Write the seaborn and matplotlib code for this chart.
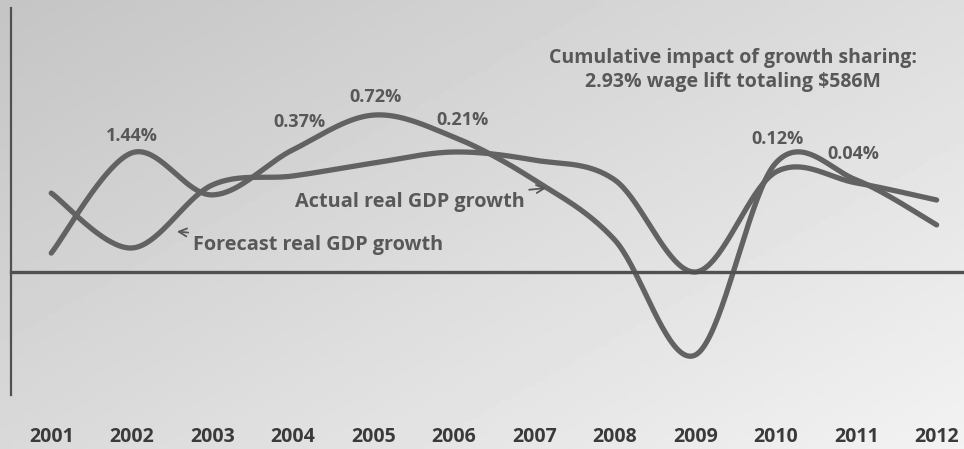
import matplotlib.pyplot as plt
import numpy as np
import pandas as pd
import seaborn as sns

# ---- Data (real GDP growth, %)
#
years = ['2001', '2002', '2003', '2004', '2005', '2006',
         '2007', '2008', '2009', '2010', '2011', '2012']
actual_growth = [0.63, 3.97, 2.57, 4.07, 5.23, 4.50, 3.07, 1.07, -2.77, 3.63, 3.07, 1.57]
forecast_growth = [2.63, 0.80, 2.90, 3.20, 3.63, 4.00, 3.73, 3.07, 0.00, 3.33, 2.97, 2.40]
lift_labels = ['', '1.44%', '', '0.37%', '0.72%', '0.21%', '', '', '', '0.12%', '0.04%', '']

INK = '#585858'
FONT = 'Open Sans'


def smooth_line(values, n=40):
    '''
    Excel-like smoothed line (Catmull-Rom) through the yearly points.
    '''
    y = np.asarray(values, dtype=float)
    x = np.arange(len(y), dtype=float)
    px = np.concatenate([[x[0]], x, [x[-1]]])
    py = np.concatenate([[y[0]], y, [y[-1]]])
    xs, ys = [], []
    t = np.linspace(0, 1, n)
    for i in range(1, len(px) - 2):
        p0, p1, p2, p3 = (np.array([px[j], py[j]]) for j in range(i - 1, i + 3))
        c1 = p1 + (p2 - p0) / 6
        c2 = p2 - (p3 - p1) / 6
        seg = ((1 - t) ** 3)[:, None] * p1 + (3 * (1 - t) ** 2 * t)[:, None] * c1 \
            + (3 * (1 - t) * t ** 2)[:, None] * c2 + (t ** 3)[:, None] * p2
        xs.extend(seg[:, 0])
        ys.extend(seg[:, 1])
    return np.array(xs), np.array(ys)


sns.set_style('white')
plt.rcParams['font.family'] = [FONT, 'DejaVu Sans']

fig = plt.figure(figsize=(9.64, 4.49), dpi=100)

# ---- Background gradient
#
bg = fig.add_axes([0, 0, 1, 1], zorder=0)
gx, gy = np.meshgrid(np.linspace(0, 1, 200), np.linspace(0, 1, 100))
bg.imshow(0.77 + 0.18 * (0.55 * gx + 0.45 * gy), cmap='gray', vmin=0, vmax=1,
          aspect='auto', extent=(0, 1, 1, 0))
bg.axis('off')

ax = fig.add_axes([11 / 964, 54 / 449, 1 - 11 / 964, 387 / 449], zorder=1)
ax.patch.set_alpha(0)

frames = []
for name, values in [('Actual', actual_growth), ('Forecast', forecast_growth)]:
    sx, sy = smooth_line(values)
    frames.append(pd.DataFrame({'x': sx, 'growth': sy, 'series': name}))
curves = pd.concat(frames, ignore_index=True)

sns.lineplot(data=curves, x='x', y='growth', units='series', estimator=None,
             sort=False, color='#626262', linewidth=3.8, ax=ax,
             solid_capstyle='round', legend=False)

ax.set_xlim(-0.5, 11.34)
ax.set_ylim(-4.1, 8.8)

# ---- Axes: zero line with boundary ticks, plain left spine
#
for side in ['top', 'right']:
    ax.spines[side].set_visible(False)
ax.spines['bottom'].set_position(('data', 0))
ax.spines['bottom'].set_color('#505050')
ax.spines['bottom'].set_linewidth(2.4)
ax.spines['left'].set_color('#505050')
ax.spines['left'].set_linewidth(1.6)
ax.set_xticks(np.arange(len(years) - 1) + 0.5)
ax.set_xticklabels([])
ax.tick_params(axis='x', direction='out', length=5, width=1.3, color='#505050')
ax.set_yticks([])
ax.set_xlabel('')
ax.set_ylabel('')

for i, year in enumerate(years):
    ax.text(i, -0.108, year, transform=ax.get_xaxis_transform(), ha='center',
            va='center', fontsize=14, fontweight='bold', color='#3a3a3a',
            clip_on=False)

# ---- Wage-lift labels above the actual line
#
label_offsets = {1: (0, 12), 3: (5, 20), 4: (2, 13), 5: (6, 12), 9: (1, 17), 10: (-2, 19)}
for i, text in enumerate(lift_labels):
    if text:
        dx, dy = label_offsets[i]
        ax.annotate(text, (i, actual_growth[i]), xytext=(dx, dy),
                    textcoords='offset points', ha='center', va='center',
                    fontsize=13, fontweight='bold', color=INK)

# ---- Series labels with arrows
#
ax.annotate('Actual real GDP growth', xy=(6.15, 2.8), xytext=(5.88, 2.33),
            ha='right', va='center', fontsize=14.3, fontweight='bold', color=INK,
            arrowprops=dict(arrowstyle='->', color=INK, lw=1.3,
                            shrinkA=1, shrinkB=0))
ax.annotate('Forecast real GDP growth', xy=(1.56, 1.35), xytext=(1.76, 0.9),
            ha='left', va='center', fontsize=14.3, fontweight='bold', color=INK,
            arrowprops=dict(arrowstyle='->', color=INK, lw=1.3,
                            shrinkA=1, shrinkB=0))

ax.text(8.47, 6.74, 'Cumulative impact of growth sharing:\n2.93% wage lift totaling $586M',
        ha='center', va='center', fontsize=14, fontweight='bold', color=INK,
        linespacing=1.3)

fig.savefig('out.png', dpi=100)
